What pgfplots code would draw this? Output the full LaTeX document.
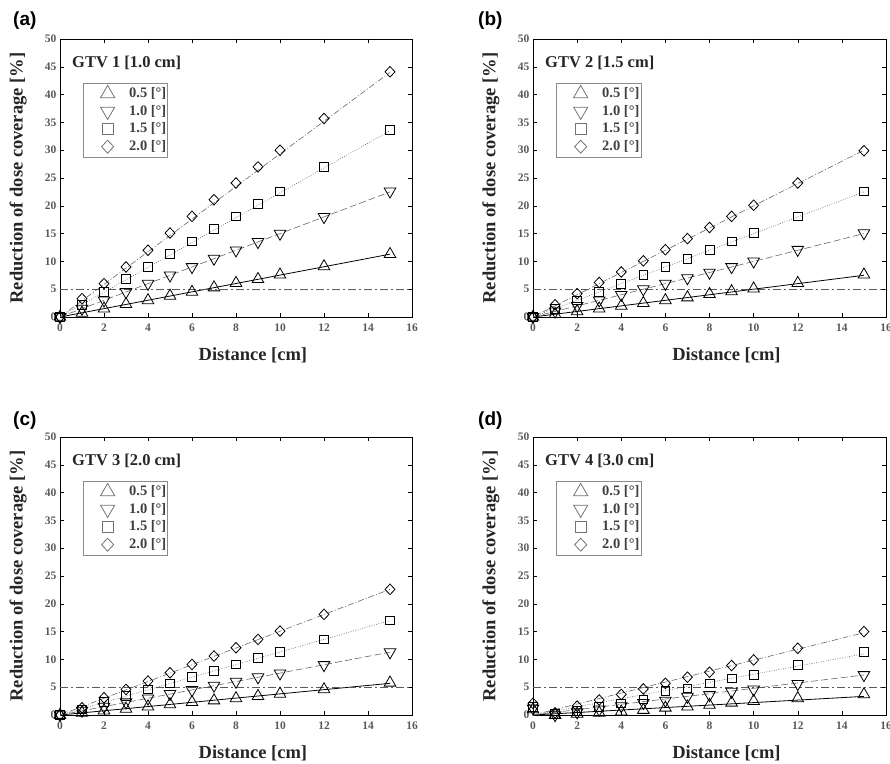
\documentclass[border=0pt]{standalone}
\usepackage{fontspec}
\setmainfont{Liberation Serif}
\newfontfamily\panelfont{Liberation Sans}
\usepackage{pgfplots}
\usepackage{pgfplotstable}
\pgfplotsset{compat=1.18}

\pgfplotstableread{
x a b c d
0 0 0 0 0
1 0.75 1.5 2.2 3.3
2 1.5 3.0 4.5 6.0
3 2.3 4.5 6.8 9.0
4 3.0 6.0 9.0 12.0
5 3.8 7.5 11.4 15.1
6 4.5 9.0 13.6 18.1
7 5.3 10.5 15.8 21.1
8 6.1 12.0 18.1 24.1
9 6.8 13.5 20.3 27.0
10 7.6 15.0 22.6 30.0
12 9.1 18.0 27.0 35.7
15 11.3 22.6 33.6 44.1
}\gtvA

\pgfplotstableread{
x a b c d
0 0 0 0 0
1 0.5 1.0 1.5 2.2
2 1.0 2.0 3.0 4.2
3 1.5 3.0 4.5 6.2
4 2.0 4.0 6.0 8.1
5 2.5 5.0 7.5 10.1
6 3.0 6.0 9.0 12.1
7 3.5 7.0 10.5 14.1
8 4.1 8.0 12.0 16.1
9 4.6 9.0 13.6 18.1
10 5.1 10.0 15.1 20.1
12 6.1 12.1 18.1 24.1
15 7.6 15.1 22.6 29.9
}\gtvB

\pgfplotstableread{
x a b c d
0 0 0 0 0
1 0.4 0.8 1.0 1.3
2 0.8 1.5 2.3 3.1
3 1.1 2.3 3.5 4.6
4 1.5 3.0 4.6 6.1
5 1.9 3.8 5.7 7.6
6 2.3 4.5 6.8 9.1
7 2.6 5.3 7.9 10.6
8 3.0 6.0 9.1 12.1
9 3.4 6.8 10.2 13.6
10 3.8 7.5 11.3 15.1
12 4.6 9.0 13.6 18.1
15 5.8 11.3 17.0 22.6
}\gtvC

\pgfplotstableread{
x a b c d
0 1.0 1.2 1.5 2.1
1 0.0 0.0 0.2 0.4
2 0.2 0.5 0.8 1.6
3 0.4 1.0 1.4 2.7
4 0.6 1.6 2.1 3.7
5 0.9 2.2 2.8 4.7
6 1.3 2.6 4.3 5.7
7 1.5 3.3 4.8 6.8
8 1.8 3.6 5.7 7.7
9 2.2 4.2 6.6 8.9
10 2.5 4.6 7.2 9.9
12 3.0 5.6 9.0 12.0
15 3.7 7.2 11.3 15.0
}\gtvD

\pgfplotsset{
  panel/.style={
    scale only axis, height=278pt,
    xmin=0, xmax=16, ymin=0, ymax=50,
    xtick={0,2,...,16}, ytick={0,5,...,50},
    tick align=inside, major tick length=4pt,
    tick style={black, line width=0.5pt},
    axis line style={black, line width=0.6pt},
    /pgf/number format/assume math mode=true,
    tick label style={font=\fontsize{11.5}{13}\selectfont\bfseries, text=black!65},
    xticklabel style={yshift=-3.5pt},
    xlabel={Distance [cm]},
    ylabel={Reduction of dose coverage [\%]},
    label style={font=\fontsize{18.5}{20}\selectfont\bfseries, text=black!85},
    x label style={at={(axis description cs:0.548,-0.137)}, anchor=center},
    y label style={at={(axis description cs:-0.119,0.5)}, anchor=center},
    legend cell align=left,
    legend style={at={(axis description cs:0.066,0.842)}, anchor=north west,
      draw=black!45, line width=0.8pt, inner xsep=0pt, inner ysep=2pt,
      row sep=1.2pt,
      font=\fontsize{14.5}{16}\selectfont\bfseries, text=black!75,
      nodes={inner sep=1.5pt, text height=10.5pt, text depth=3pt}},
    legend image code/.code={
      \path[draw=none, fill=none] (0pt,0pt) -- (44pt,0pt);
      \draw[#1, draw=black!55, mark size={1.22*\pgfplotmarksize}] plot coordinates {(24pt,0pt)};
    },
  },
  fitA/.style={black, line width=0.8pt},
  fitB/.style={black!60, line width=0.6pt, dash pattern=on 7pt off 3pt},
  fitC/.style={black!60, line width=0.6pt, dash pattern=on 0.8pt off 1.6pt},
  fitD/.style={black!60, line width=0.6pt, dash pattern=on 6pt off 2pt on 1pt off 2pt},
  thr/.style={black!65, line width=1.2pt, dash pattern=on 8pt off 3pt on 2pt off 3pt},
  mA/.style={only marks, black, mark=triangle, mark size=6.7pt, line width=0.8pt},
  mB/.style={only marks, black, mark=triangle, mark size=6.7pt, line width=0.8pt, mark options={rotate=180}},
  mC/.style={only marks, black, mark=square, mark size=4.4pt, line width=0.8pt},
  mD/.style={only marks, black, mark=diamond, mark size=5.3pt, line width=0.8pt, mark options={xscale=1.25}},
}

\newcommand\gtvpanel[8]{%
\begin{axis}[panel, at={(#1)}, anchor=south west, width=#2]
  \addplot[fitA, forget plot] coordinates {(0,0) (15,#5)};
  \addplot[fitB, forget plot] coordinates {(0,0) (15,#6)};
  \addplot[fitC, forget plot] coordinates {(0,0) (15,#7)};
  \addplot[fitD, forget plot] coordinates {(0,0) (15,#8)};
  \addplot[thr, forget plot] coordinates {(0,5) (16,5)};
  \addplot[mA] table[x=x, y=a] {#3}; \addlegendentry{0.5 [°]}
  \addplot[mB] table[x=x, y=b] {#3}; \addlegendentry{1.0 [°]}
  \addplot[mC] table[x=x, y=c] {#3}; \addlegendentry{1.5 [°]}
  \addplot[mD] table[x=x, y=d] {#3}; \addlegendentry{2.0 [°]}
  \node[anchor=west, inner sep=0pt, font=\fontsize{16.5}{18}\selectfont\bfseries, text=black!85]
    at (axis description cs:0.034,0.914) {#4};
\end{axis}%
}

\begin{document}
\begin{tikzpicture}
\path[use as bounding box] (0pt,0pt) rectangle (890pt,763pt);
\gtvpanel{60pt,446pt}{352pt}{\gtvA}{GTV 1 [1.0 cm]}{11.3}{22.5}{33.5}{44.0}
\gtvpanel{533pt,446pt}{353pt}{\gtvB}{GTV 2 [1.5 cm]}{7.5}{15.0}{22.5}{30.0}
\gtvpanel{60pt,48pt}{352pt}{\gtvC}{GTV 3 [2.0 cm]}{5.7}{11.3}{17.0}{22.6}
\gtvpanel{533pt,48pt}{353pt}{\gtvD}{GTV 4 [3.0 cm]}{3.35}{7.2}{11.0}{14.8}
\node[anchor=west, inner sep=0pt, font=\panelfont\bfseries\fontsize{19}{20}\selectfont] at (13pt,742pt) {(a)};
\node[anchor=west, inner sep=0pt, font=\panelfont\bfseries\fontsize{19}{20}\selectfont] at (478pt,742pt) {(b)};
\node[anchor=west, inner sep=0pt, font=\panelfont\bfseries\fontsize{19}{20}\selectfont] at (13pt,342pt) {(c)};
\node[anchor=west, inner sep=0pt, font=\panelfont\bfseries\fontsize{19}{20}\selectfont] at (478pt,342pt) {(d)};
\end{tikzpicture}
\end{document}
